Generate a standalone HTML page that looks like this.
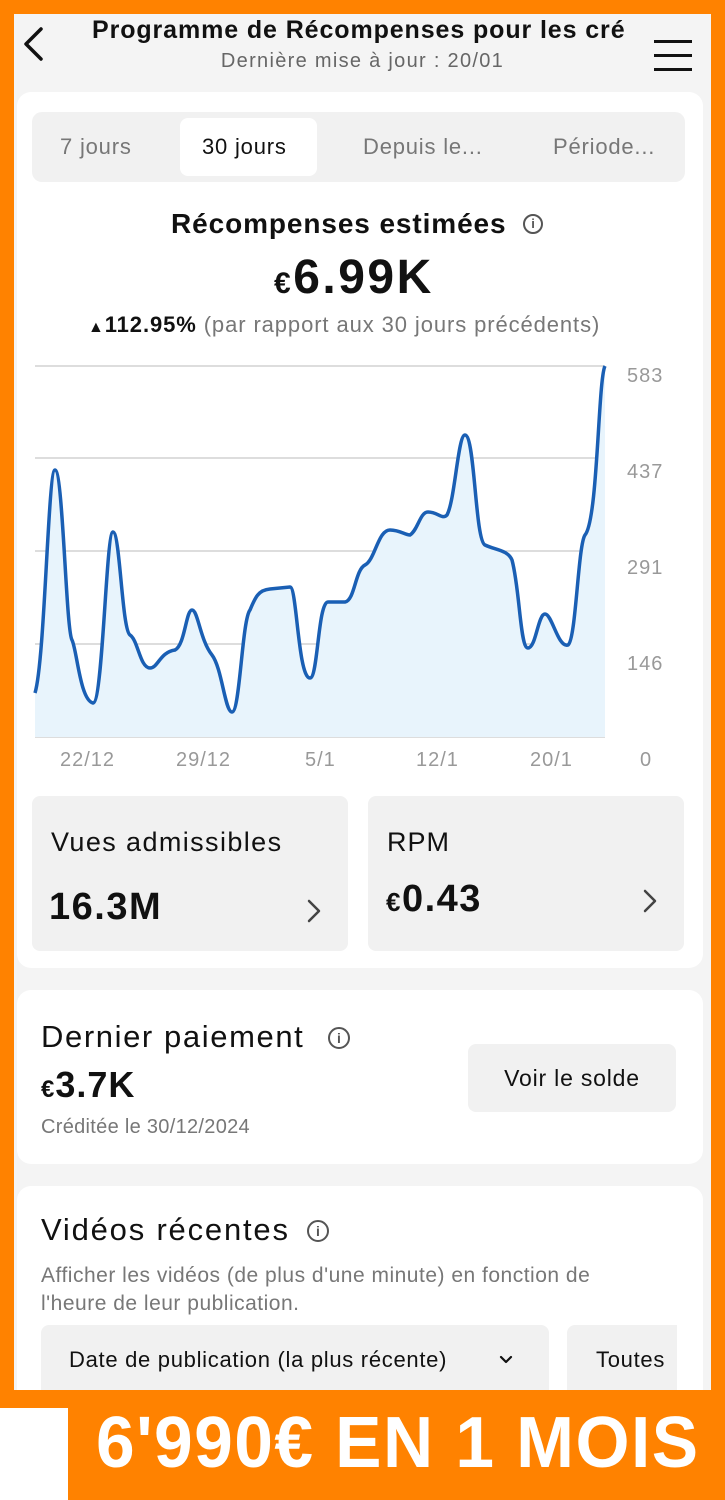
<!DOCTYPE html>
<html><head><meta charset="utf-8"><style>
*{margin:0;padding:0;box-sizing:border-box}
body{width:725px;height:1500px;background:#ff8200;font-family:"Liberation Sans",sans-serif;position:relative;overflow:hidden;color:#111}
.page{position:absolute;left:14px;top:14px;width:697px;height:1376px;background:#f4f4f4;overflow:hidden}
.card{position:absolute;background:#fff;border-radius:14px}
.abs{position:absolute;white-space:nowrap}
.gray{color:#777}
.ic{position:absolute;border:2px solid #555;border-radius:50%;text-align:center;color:#555;font-weight:bold}
</style></head><body>
<div class="page">
  <svg class="abs" style="left:8px;top:12px" width="24" height="36"><polyline points="19,3 4,18 19,33" fill="none" stroke="#111" stroke-width="3.5" stroke-linecap="round" stroke-linejoin="round"/></svg>
  <div class="abs" style="left:78px;top:2px;font-size:25px;font-weight:bold;letter-spacing:0.9px">Programme de Récompenses pour les cré</div>
  <div class="abs gray" style="left:0;width:697px;text-align:center;top:36px;font-size:20px;color:#666;letter-spacing:1.3px">Dernière mise à jour : 20/01</div>
  <div class="abs" style="left:640px;top:26px;width:38px;height:3px;background:#111;box-shadow:0 14px 0 #111,0 28px 0 #111"></div>

  <div class="card" style="left:3px;top:78px;width:686px;height:876px"></div>
  <div class="abs" style="left:18px;top:98px;width:653px;height:70px;background:#f1f1f1;border-radius:10px"></div>
  <div class="abs" style="left:166px;top:104px;width:137px;height:58px;background:#fff;border-radius:8px"></div>
  <div class="abs gray" style="left:46px;top:120px;font-size:22px;letter-spacing:0.8px">7 jours</div>
  <div class="abs" style="left:188px;top:120px;font-size:22px;letter-spacing:0.8px">30 jours</div>
  <div class="abs gray" style="left:349px;top:120px;font-size:22px;letter-spacing:0.8px">Depuis le...</div>
  <div class="abs gray" style="left:539px;top:120px;font-size:22px;letter-spacing:0.8px">Période...</div>

  <div class="abs" style="left:157px;top:194px;font-size:28px;font-weight:bold;letter-spacing:0.9px">Récompenses estimées</div>
  <div class="ic" style="left:509px;top:200px;width:20px;height:20px;font-size:13px;line-height:16px">i</div>
  <div class="abs" style="left:260px;top:236px;font-size:48px;font-weight:bold;letter-spacing:2.5px"><span style="font-size:30px">€</span>6.99K</div>
  <div class="abs" style="left:74px;top:298px;font-size:22px;letter-spacing:0.9px"><span style="font-size:16px">&#9650;</span><b>112.95%</b> <span class="gray">(par rapport aux 30 jours précédents)</span></div>

  <svg class="abs" style="left:-14px;top:-14px" width="725" height="800">
    <g stroke="#bbb" stroke-width="1">
      <line x1="35" y1="366" x2="605" y2="366"/><line x1="35" y1="458" x2="605" y2="458"/>
      <line x1="35" y1="551" x2="605" y2="551"/><line x1="35" y1="644" x2="605" y2="644"/>
      <line x1="35" y1="737" x2="605" y2="737"/>
    </g>
    <path d="M35,693 C45,660 48,470 55,470 C63,470 66,630 72,640 C77,650 80,700 93,703 C103,703 106,532 113,532 C120,532 122,630 130,635 C138,640 140,668 150,668 C158,668 160,652 175,650 C185,645 186,610 192,610 C198,610 200,640 212,655 C222,668 225,712 232,712 C240,712 242,620 250,610 C255,598 258,590 270,589 L290,587 C297,587 298,678 310,678 C318,678 318,602 328,602 L345,602 C355,600 355,570 365,565 C375,560 378,530 390,530 C400,530 405,535 410,535 C418,530 420,512 428,512 C438,512 442,520 447,515 C455,500 458,435 465,435 C475,435 475,540 485,545 C495,550 508,550 512,560 C520,590 520,648 528,648 C536,648 538,614 545,614 C552,614 558,648 568,645 C576,640 578,545 585,535 C598,520 598,380 605,366 L605,737 L35,737 Z" fill="#e8f4fc" stroke="none"/>
    <path d="M35,693 C45,660 48,470 55,470 C63,470 66,630 72,640 C77,650 80,700 93,703 C103,703 106,532 113,532 C120,532 122,630 130,635 C138,640 140,668 150,668 C158,668 160,652 175,650 C185,645 186,610 192,610 C198,610 200,640 212,655 C222,668 225,712 232,712 C240,712 242,620 250,610 C255,598 258,590 270,589 L290,587 C297,587 298,678 310,678 C318,678 318,602 328,602 L345,602 C355,600 355,570 365,565 C375,560 378,530 390,530 C400,530 405,535 410,535 C418,530 420,512 428,512 C438,512 442,520 447,515 C455,500 458,435 465,435 C475,435 475,540 485,545 C495,550 508,550 512,560 C520,590 520,648 528,648 C536,648 538,614 545,614 C552,614 558,648 568,645 C576,640 578,545 585,535 C598,520 598,380 605,366" fill="none" stroke="#1a5fb4" stroke-width="3.5"/>
    <g font-family="Liberation Sans" font-size="20" fill="#999" letter-spacing="1">
      <text x="627" y="382">583</text><text x="627" y="478">437</text><text x="627" y="574">291</text><text x="627" y="670">146</text><text x="640" y="766">0</text>
      <text x="60" y="766">22/12</text><text x="176" y="766">29/12</text><text x="305" y="766">5/1</text><text x="416" y="766">12/1</text><text x="530" y="766">20/1</text>
    </g>
  </svg>

  <div class="abs" style="left:18px;top:782px;width:316px;height:155px;background:#f1f1f1;border-radius:8px"></div>
  <div class="abs" style="left:354px;top:782px;width:316px;height:155px;background:#f1f1f1;border-radius:8px"></div>
  <div class="abs" style="left:37px;top:813px;font-size:27px;letter-spacing:1.4px">Vues admissibles</div>
  <div class="abs" style="left:35px;top:872px;font-size:38px;font-weight:bold;letter-spacing:1.5px">16.3M</div>
  <svg class="abs" style="left:292px;top:884px" width="16" height="26"><polyline points="3,3 13,13 3,23" fill="none" stroke="#444" stroke-width="2.5" stroke-linecap="round" stroke-linejoin="round"/></svg>
  <div class="abs" style="left:373px;top:813px;font-size:27px;letter-spacing:1px">RPM</div>
  <div class="abs" style="left:372px;top:864px;font-size:38px;font-weight:bold;letter-spacing:1.5px"><span style="font-size:26px">€</span>0.43</div>
  <svg class="abs" style="left:628px;top:874px" width="16" height="26"><polyline points="3,3 13,13 3,23" fill="none" stroke="#444" stroke-width="2.5" stroke-linecap="round" stroke-linejoin="round"/></svg>

  <div class="card" style="left:3px;top:976px;width:686px;height:174px"></div>
  <div class="abs" style="left:27px;top:1005px;font-size:31px;letter-spacing:1.6px">Dernier paiement</div>
  <div class="ic" style="left:314px;top:1013px;width:22px;height:22px;font-size:14px;line-height:18px">i</div>
  <div class="abs" style="left:27px;top:1050px;font-size:36px;font-weight:bold;letter-spacing:1px"><span style="font-size:24px">€</span>3.7K</div>
  <div class="abs gray" style="left:27px;top:1102px;font-size:20px;letter-spacing:0.3px">Créditée le 30/12/2024</div>
  <div class="abs" style="left:454px;top:1030px;width:208px;height:68px;background:#f1f1f1;border-radius:8px;font-size:23px;text-align:center;line-height:68px;letter-spacing:0.8px">Voir le solde</div>

  <div class="card" style="left:3px;top:1172px;width:686px;height:230px"></div>
  <div class="abs" style="left:27px;top:1198px;font-size:31px;letter-spacing:1.8px">Vidéos récentes</div>
  <div class="ic" style="left:293px;top:1206px;width:22px;height:22px;font-size:14px;line-height:18px">i</div>
  <div class="abs gray" style="left:27px;top:1248px;font-size:21px;line-height:28px;letter-spacing:0.5px">Afficher les vidéos (de plus d'une minute) en fonction de<br>l'heure de leur publication.</div>
  <div class="abs" style="left:27px;top:1311px;width:508px;height:80px;background:#f1f1f1;border-radius:8px"></div>
  <div class="abs" style="left:55px;top:1333px;font-size:22px;letter-spacing:0.7px">Date de publication (la plus récente)</div>
  <svg class="abs" style="left:484px;top:1340px" width="16" height="12"><polyline points="3,3 8,8 13,3" fill="none" stroke="#111" stroke-width="2.2" stroke-linecap="round" stroke-linejoin="round"/></svg>
  <div class="abs" style="left:553px;top:1311px;width:110px;height:80px;background:#f1f1f1;border-radius:8px 0 0 8px"></div>
  <div class="abs" style="left:582px;top:1333px;font-size:22px;letter-spacing:0.7px">Toutes</div>
</div>
<div class="abs" style="left:0;top:1408px;width:68px;height:92px;background:#fff"></div>
<div class="abs" style="left:96px;top:1402px;font-size:72px;font-weight:bold;color:#fff;white-space:nowrap;transform:scaleX(0.965);transform-origin:left top;letter-spacing:1.5px">6'990€ EN 1 MOIS</div>
</body></html>
